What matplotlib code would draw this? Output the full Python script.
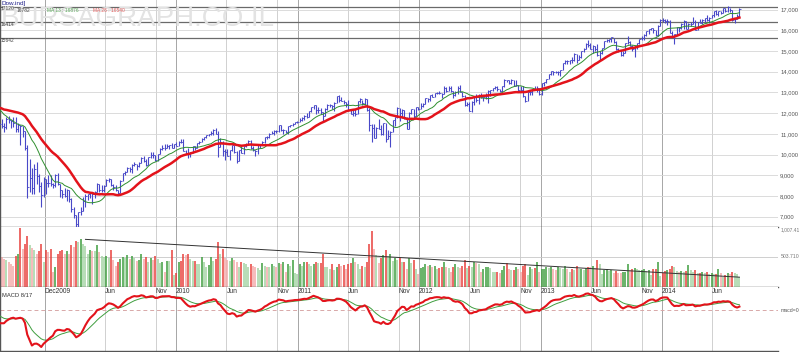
import numpy as np
import pandas as pd
import matplotlib
matplotlib.use('Agg')
import matplotlib.pyplot as plt

plt.rcParams['font.family'] = ['Liberation Sans', 'DejaVu Sans']

# weekly closes before the visible window (only used to warm up MA / MACD)
pre_close = [12099, 12207, 12743, 12182, 12348, 12381, 12266, 11894, 11951, 12361, 12216, 12609, 12325,
             12849, 12891, 13058, 12745, 12986, 12480, 12638, 12209, 12307, 11843, 11346, 11288, 11100]

# weekly bars, first week ends 2008-07-18
close_2008 = [11496, 11370, 11327, 11734, 11659, 11628, 11543, 11220, 11421, 11388, 11143, 10325, 8451, 8852,
              8378, 9325, 8943, 8497, 8046, 8829, 8635, 8629, 8579, 8515]
high_2008 = [11510, 11700, 11500, 11800, 11860, 11680, 11790, 11790, 11500, 11420, 11390, 11150, 10470, 9790,
             9370, 9530, 9650, 9080, 8690, 8900, 8800, 9030, 9000, 8640]
low_2008 = [10830, 11290, 11100, 11220, 11500, 11280, 11340, 11110, 11100, 10460, 10850, 10200, 7880, 8200,
            8100, 8090, 8600, 8200, 7450, 7960, 8100, 8420, 8470, 8380]
vol_2008 = [560, 500, 470, 450, 420, 380, 350, 520, 560, 990, 640, 720, 860, 700, 650, 620, 560, 600, 720, 420,
            620, 580, 640, 260]

close_2009 = [9034, 8599, 8281, 8077, 8001, 8280, 7850, 7366, 7063, 6627, 7224, 7279, 7776, 8018, 8083, 8131,
              8076, 8212, 8575, 8268, 8277, 8500, 8764, 8799, 8539, 8438, 8280, 8146, 8743, 9093, 9172, 9370,
              9321, 9505, 9544, 9441, 9605, 9820, 9665, 9488, 9865, 9996, 9972, 9713, 10023, 10271, 10318,
              10310, 10389, 10471, 10329, 10520]
high_2009 = [9050, 9090, 8600, 8300, 8380, 8320, 8290, 7880, 7470, 7090, 7250, 7490, 7930, 8080, 8090, 8160,
             8140, 8220, 8640, 8580, 8530, 8510, 8800, 8880, 8800, 8560, 8530, 8290, 8750, 9100, 9200, 9380,
             9420, 9520, 9630, 9550, 9640, 9870, 9920, 9800, 9880, 10100, 10120, 10000, 10040, 10300, 10440,
             10500, 10520, 10480, 10540, 10530]
low_2009 = [8410, 8550, 7930, 7880, 7950, 7750, 7690, 7250, 6950, 6470, 6510, 7070, 7260, 7470, 7800, 7900,
            7600, 7910, 8200, 8180, 8180, 8190, 8500, 8680, 8460, 8300, 8260, 8090, 8140, 8700, 9010, 9160,
            9160, 9120, 9460, 9250, 9400, 9580, 9630, 9430, 9480, 9850, 9840, 9670, 9700, 10020, 10200,
            10230, 10300, 10260, 10300, 10320]
vol_2009 = [330, 560, 600, 620, 560, 600, 560, 700, 680, 780, 760, 800, 720, 690, 560, 620, 610, 600, 700, 580,
            520, 500, 520, 480, 620, 450, 360, 420, 470, 500, 480, 540, 470, 520, 480, 430, 460, 560, 470, 500,
            420, 480, 450, 520, 470, 400, 420, 260, 440, 430, 620, 200]

close_2010 = [10428, 10618, 10610, 10173, 10067, 10012, 10099, 10402, 10325, 10567, 10625, 10742, 10851,
              10927, 10997, 11019, 11204, 11009, 10380, 10620, 10193, 10137, 9931, 10212, 10450, 10144, 9686,
              10198, 10097, 10424, 10466, 10654, 10303, 10214, 10150, 10448, 10463, 10607, 10860, 10829,
              11006, 11063, 11133, 11118, 11445, 11193, 11204, 11092, 11382, 11410, 11492, 11573, 11578]
high_2010 = [10590, 10630, 10730, 10730, 10240, 10320, 10130, 10420, 10420, 10580, 10640, 10790, 10860,
             10950, 11000, 11150, 11210, 11260, 11160, 10820, 10640, 10280, 10260, 10230, 10470, 10460, 10150,
             10220, 10410, 10430, 10560, 10720, 10700, 10430, 10230, 10460, 10480, 10640, 10870, 10880,
             11030, 11120, 11170, 11190, 11450, 11450, 11230, 11200, 11400, 11440, 11500, 11580, 11610]
low_2010 = [10420, 10420, 10580, 10150, 10030, 9840, 9900, 10090, 10240, 10320, 10530, 10610, 10720,
            10820, 10880, 10960, 10960, 10980, 9870, 10380, 9920, 9760, 9910, 9760, 10190, 10060, 9610,
            9690, 10080, 10010, 10360, 10460, 10250, 10150, 9940, 10010, 10310, 10450, 10560, 10740,
            10800, 10980, 10930, 11020, 11080, 11150, 11000, 11040, 10980, 11310, 11360, 11470, 11500]
vol_2010 = [240, 420, 430, 560, 530, 560, 470, 430, 440, 390, 380, 500, 420, 330, 370, 500, 440, 470, 760, 560,
            640, 480, 460, 440, 480, 460, 420, 330, 420, 400, 380, 340, 380, 360, 340, 320, 280, 410, 360, 340,
            330, 380, 360, 330, 400, 380, 420, 250, 380, 360, 460, 230, 220]

close_2011 = [11675, 11787, 11871, 11824, 12092, 12273, 12391, 12130, 12170, 12044, 11859, 12220, 12376,
              12380, 12342, 12505, 12811, 12638, 12596, 12512, 12441, 12151, 11952, 12004, 11934, 12582,
              12657, 12479, 12681, 12143, 11445, 11269, 10818, 11285, 11240, 10992, 11509, 10771, 10913,
              11103, 11644, 11809, 12231, 11983, 12153, 11796, 11231, 12019, 12184, 11867, 12294, 12218]
high_2011 = [11740, 11800, 11900, 12020, 12100, 12280, 12400, 12390, 12290, 12230, 12050, 12230, 12420,
             12450, 12400, 12520, 12830, 12880, 12790, 12630, 12520, 12610, 12160, 12140, 12200, 12600,
             12750, 12650, 12750, 12690, 12250, 11460, 11480, 11330, 11720, 11450, 11520, 11530, 11190,
             11120, 11650, 11810, 12290, 12230, 12210, 12160, 11800, 12060, 12190, 12190, 12300, 12300]
low_2011 = [11570, 11610, 11690, 11780, 11830, 12060, 12210, 11980, 11990, 11950, 11560, 11850, 12170,
            12300, 12220, 12090, 12470, 12530, 12570, 12420, 12310, 12120, 11940, 11860, 11870, 11940,
            12480, 12400, 12380, 12100, 11140, 10600, 10780, 10820, 11220, 10930, 10920, 10600, 10770,
            10360, 11100, 11390, 11780, 11640, 11770, 11720, 11230, 11250, 11970, 11740, 11860, 12150]
vol_2011 = [380, 360, 420, 420, 380, 360, 380, 420, 400, 400, 560, 340, 330, 300, 380, 280, 330, 380, 350, 370,
            300, 380, 400, 480, 420, 380, 310, 350, 340, 420, 720, 940, 640, 540, 400, 480, 540, 620, 520, 560,
            430, 480, 460, 480, 420, 420, 300, 480, 400, 460, 300, 220]

close_2012 = [12360, 12422, 12720, 12660, 12862, 12801, 12950, 12983, 12978, 12922, 13233, 13081, 13212,
              13060, 12850, 13029, 13228, 13038, 12820, 12369, 12455, 12119, 12554, 12767, 12640, 12880,
              12772, 12777, 12822, 13075, 13096, 13207, 13275, 13157, 13090, 13306, 13593, 13579, 13437,
              13610, 13328, 13343, 13107, 13093, 12815, 12588, 13010, 13026, 13155, 13135, 13190, 12938]
high_2012 = [12480, 12480, 12730, 12750, 12880, 12910, 12960, 13010, 13060, 12980, 13290, 13240, 13290,
             13300, 13060, 13080, 13290, 13340, 13040, 12870, 12560, 12560, 12570, 12800, 12900, 12900,
             12960, 12790, 12960, 13110, 13110, 13220, 13330, 13300, 13180, 13310, 13650, 13620, 13580,
             13660, 13610, 13590, 13350, 13290, 13290, 12830, 13020, 13060, 13180, 13330, 13290, 13200]
low_2012 = [12220, 12300, 12420, 12550, 12580, 12770, 12760, 12900, 12930, 12740, 12930, 13030, 13050,
            13030, 12710, 12820, 12920, 13030, 12760, 12350, 12350, 12100, 12040, 12410, 12560, 12450,
            12730, 12580, 12690, 12490, 12840, 13070, 13140, 13050, 13000, 13040, 13250, 13480, 13390,
            13410, 13300, 13300, 13080, 13060, 12800, 12540, 12590, 12860, 12880, 13100, 13020, 12880]
vol_2012 = [320, 330, 380, 360, 370, 340, 360, 300, 320, 330, 420, 330, 320, 260, 340, 380, 330, 320, 350, 450,
            320, 360, 340, 420, 400, 380, 260, 300, 330, 330, 320, 260, 250, 250, 240, 280, 360, 400, 300, 290,
            290, 340, 300, 260, 360, 380, 200, 340, 300, 320, 420, 250]

close_2013 = [13435, 13488, 13650, 13896, 14009, 13993, 13982, 14001, 14090, 14397, 14515, 14512, 14579,
              14565, 14865, 14548, 14712, 14974, 15118, 15354, 15303, 15116, 15248, 15070, 14800, 14910,
              15136, 15464, 15544, 15559, 15658, 15425, 15081, 15010, 14810, 14922, 15376, 15452, 15258,
              15073, 15237, 15400, 15570, 15615, 15762, 15962, 16065, 16086, 16020, 15755, 16221, 16479]
high_2013 = [13440, 13490, 13660, 13900, 14020, 14010, 14020, 14040, 14100, 14400, 14540, 14560, 14580,
             14690, 14890, 14870, 14790, 15010, 15130, 15360, 15540, 15400, 15280, 15260, 15340, 15000,
             15160, 15470, 15590, 15590, 15660, 15640, 15500, 15130, 15050, 14990, 15380, 15710, 15460,
             15270, 15250, 15400, 15580, 15710, 15800, 15980, 16070, 16110, 16090, 16030, 16230, 16530]
low_2013 = [12880, 13330, 13470, 13640, 13860, 13840, 13930, 13850, 13780, 14060, 14380, 14370, 14370,
            14430, 14530, 14440, 14540, 14680, 14950, 15080, 15210, 15110, 14900, 14980, 14760, 14550,
            14840, 15130, 15450, 15420, 15440, 15380, 15060, 14930, 14760, 14780, 14920, 15350, 15240,
            14990, 14720, 15110, 15340, 15510, 15530, 15700, 15840, 16000, 15850, 15700, 15700, 16220]
vol_2013 = [300, 300, 330, 320, 330, 300, 290, 330, 320, 300, 360, 310, 250, 300, 290, 360, 300, 310, 280, 320,
            340, 330, 350, 320, 460, 380, 220, 290, 300, 270, 280, 240, 270, 240, 230, 260, 260, 380, 280, 300,
            320, 300, 280, 290, 300, 270, 280, 200, 300, 300, 420, 190]

close_2014 = [16470, 16437, 16459, 15879, 15699, 15794, 16154, 16103, 16322, 16453, 16065, 16303, 16323,
              16413, 16027, 16409, 16361, 16513, 16583, 16491, 16606, 16717, 16924, 16776, 16948, 16851,
              17068, 16944, 17100, 16961, 16493, 16553, 16663, 17001]
high_2014 = [16590, 16530, 16530, 16500, 15940, 15800, 16160, 16150, 16350, 16490, 16460, 16340, 16400,
             16630, 16480, 16420, 16540, 16560, 16610, 16740, 16620, 16730, 16930, 16970, 16950, 16950,
             17070, 17070, 17150, 17090, 16990, 16610, 16760, 17050]
low_2014 = [16400, 16360, 16240, 15870, 15620, 15340, 15790, 15930, 16050, 16070, 16050, 16080, 16220,
            16320, 16020, 16020, 16340, 16320, 16420, 16440, 16370, 16580, 16650, 16740, 16700, 16760,
            16810, 16860, 16900, 16900, 16460, 16330, 16530, 16660]
vol_2014 = [230, 270, 290, 310, 360, 330, 270, 260, 270, 250, 270, 370, 280, 260, 280, 230, 240, 250, 240, 250,
            210, 230, 210, 220, 300, 230, 170, 200, 230, 210, 260, 240, 210, 170]

tick_dates = ['2008-12-01', '2009-06-01', '2009-11-01', '2010-01-01', '2010-06-01', '2010-11-01',
              '2011-01-01', '2011-06-01', '2011-11-01', '2012-01-01', '2012-06-01', '2012-11-01',
              '2013-01-01', '2013-06-01', '2013-11-01', '2014-01-01', '2014-06-01']
tick_labels = ['Dec2009', 'Jun', 'Nov', '2010', 'Jun', 'Nov', '2011', 'Jun', 'Nov', '2012', 'Jun', 'Nov',
               '2013', 'Jun', 'Nov', '2014', 'Jun']

levels = [17120, 16414, 15642]          # horizontal lines drawn on the chart
trend_dates = ['2009-04-03', '2014-08-22']  # volume trend line
trend_vals = [800, 165]

close = np.array(close_2008 + close_2009 + close_2010 + close_2011 + close_2012 + close_2013 + close_2014)
high = np.array(high_2008 + high_2009 + high_2010 + high_2011 + high_2012 + high_2013 + high_2014)
low = np.array(low_2008 + low_2009 + low_2010 + low_2011 + low_2012 + low_2013 + low_2014)
vol = np.array(vol_2008 + vol_2009 + vol_2010 + vol_2011 + vol_2012 + vol_2013 + vol_2014)
weeks = pd.date_range('2008-07-18', periods=len(close), freq='W-FRI')

# indicators
s = pd.Series(pre_close + list(close))
n0 = len(pre_close)
ma13 = s.rolling(13).mean().values[n0:]
ma26 = s.rolling(26).mean().values[n0:]
macd_s = s.ewm(span=8, adjust=False).mean() - s.ewm(span=17, adjust=False).mean()
sig_s = macd_s.ewm(span=9, adjust=False).mean()
macd = macd_s.values[n0:]
sig = sig_s.values[n0:]

prev_close = np.r_[pre_close[-1], close[:-1]]
prev_vol = np.r_[vol[0], vol[:-1]]
vcols = []
for c, pc, v, pv in zip(close, prev_close, vol, prev_vol):
    if c >= pc:
        vcols.append('#3f9e3f' if v >= pv else '#a3d3a3')
    else:
        vcols.append('#e8403c' if v >= pv else '#f4a8a8')

# ---------------- figure ----------------
W, H = 800, 352
fig = plt.figure(figsize=(8, 3.52), dpi=100)


def box(top, bottom):
    return [0, 1 - bottom / H, 778 / W, (bottom - top) / H]


ax = fig.add_axes(box(0, 227))
axv = fig.add_axes(box(227, 287), sharex=ax)
axm = fig.add_axes(box(287, 351), sharex=ax)

ax.set_xlim(pd.Timestamp('2008-07-20'), pd.Timestamp('2014-12-16'))

for a in (ax, axv, axm):
    a.spines['right'].set_visible(False)
    a.spines['top'].set_visible(False)
    for sp in ('left', 'bottom'):
        a.spines[sp].set_color('#555555')
        a.spines[sp].set_linewidth(1.0)
    a.tick_params(axis='x', length=0, labelbottom=False)
    for d, lab in zip(tick_dates, tick_labels):
        col = '#a6a6a6' if any(ch.isdigit() for ch in lab) else '#d0d0d0'
        a.axvline(pd.Timestamp(d), color=col, lw=0.7, zorder=0)

# main price panel
ax.set_ylim(6503, 17459)
ax.yaxis.tick_right()
yt = np.arange(7000, 17001, 1000)
ax.set_yticks(yt)
ax.set_yticklabels([f'{v:,}' for v in yt])
ax.tick_params(axis='y', length=0, pad=1.5, labelsize=4.2, labelcolor='#555555')
ax.grid(axis='y', color='#d6d6d6', lw=0.6, zorder=0)
for lv in levels:
    ax.axhline(lv, color='#6a6a6a', lw=0.9, zorder=1)

fig.text(1 / W, 1 - 6 / H, 'BURSAGRAPH.CO.IL', fontsize=20, color='#e3e3e3',
         va='top', ha='left', zorder=0.5)

ax.vlines(weeks, low, high, color='#4848c8', lw=0.8, zorder=3)
ax.plot(weeks, close, ls='none', marker=1, ms=1.4, mew=0.6, color='#4848c8', zorder=3)
ax.plot(weeks, ma13, color='#2f8f2f', lw=0.7, zorder=4)
ax.plot(weeks, ma26, color='#e3131b', lw=1.8, zorder=5)

fig.text(1 / W, 1 - 0.5 / H, 'Dow.ind]', fontsize=4.6, color='#20208a', va='top', ha='left')
fig.text(1 / W, 1 - 9 / H, '17120', fontsize=3.5, color='#444444', va='center')
fig.text(17 / W, 1 - 10 / H, '16782', fontsize=3.5, color='#444444', va='center')
fig.text(47 / W, 1 - 10 / H, 'MA 13 : 16876', fontsize=3.5, color='#5aa85a', va='center')
fig.text(93 / W, 1 - 10 / H, 'MA 26 : 16540', fontsize=3.5, color='#e46060', va='center')
fig.text(1 / W, 1 - 24 / H, '16414', fontsize=3.5, color='#444444', va='center')
fig.text(1 / W, 1 - 40 / H, '15642', fontsize=3.5, color='#444444', va='center')

# volume panel
axv.set_ylim(0, 1007.41)
axv.set_yticks([])
axv.axhline(503.71, color='#c8c8c8', lw=0.6, zorder=0)
axv.vlines(weeks, 0, vol, colors=vcols, lw=1.1, zorder=2)
axv.plot(pd.to_datetime(trend_dates), trend_vals, color='#333333', lw=0.7, zorder=3)
yx = axv.get_yaxis_transform()
axv.text(1.003, 1007.41 * 0.99, '1,007.41', transform=yx, fontsize=3.5, color='#777777', va='top',
         ha='left', clip_on=False)
axv.text(1.003, 503.71, '503.710', transform=yx, fontsize=3.7, color='#777777', va='center',
         ha='left', clip_on=False)

# MACD panel
m = -macd.min() / 37.0
axm.set_ylim(-41 * m, 23 * m)
axm.set_yticks([])
axm.axhline(0, color='#d8a8a8', lw=0.7, ls=(0, (4, 3)), zorder=1)
axm.plot(weeks, sig, color='#3f9e3f', lw=0.7, zorder=3)
axm.plot(weeks, macd, color='#e3131b', lw=1.5, zorder=4)
axm.text(1.003, 0, 'macd=0', transform=axm.get_yaxis_transform(), fontsize=3.7, color='#555555',
         va='center', ha='left', clip_on=False)
axm.text(0.003, 0.86, 'MACD 8/17', transform=axm.transAxes, fontsize=4.2, color='#333333', va='center')
xt = axm.get_xaxis_transform()
for d, lab in zip(tick_dates, tick_labels):
    axm.text(pd.Timestamp(d), 0.935, lab, transform=xt, fontsize=4.8, color='#333333', ha='left',
             va='center')

fig.savefig('out.png', dpi=100)
